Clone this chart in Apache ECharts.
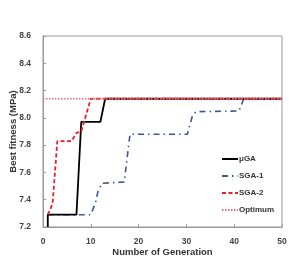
<!DOCTYPE html>
<html><head><meta charset="utf-8">
<script src="https://cdn.jsdelivr.net/npm/echarts@6/dist/echarts.min.js"></script>
<style>html,body{margin:0;padding:0;background:#fff}#c{width:289px;height:261px}</style>
</head><body><div id="c"></div>
<script>
const seriesNames = ['μGA', 'SGA-1', 'SGA-2', 'Optimum'];
const xTicks = [0, 10, 20, 30, 40, 50];
const yTicks = [7.2, 7.4, 7.6, 7.8, 8.0, 8.2, 8.4, 8.6];
const uGA = [[1,7.2],[1,7.29],[7,7.29],[8,7.97],[12,7.97],[13,8.14],[50,8.14]];
const sga1 = [[1,7.29],[10,7.29],[11,7.38],[11.5,7.46],[12.3,7.52],[17,7.53],[18.2,7.88],[30.2,7.88],[31.3,8.02],[32,8.045],[41,8.05],[42,8.14],[50,8.14]];
const sga2 = [[1,7.29],[2,7.37],[3,7.83],[6,7.83],[7,7.89],[8,7.90],[10,8.14],[50,8.14]];
const optimum = [[0,8.14],[50,8.14]];

const chart = echarts.init(document.getElementById('c'));
const fontFam = 'Liberation Sans, Arial, sans-serif';
const mk = (name, data, color, width, type, z) => ({
  name, type: 'line', data, symbol: 'none', z, showSymbol: false,
  lineStyle: {color, width, type}, itemStyle: {color}, animation: false
});
chart.setOption({
  animation: false,
  grid: {left: 43, right: 7, top: 36, bottom: 34, show: true, borderColor: '#999', borderWidth: 1,
    containLabel: false, outerBoundsMode: 'none'},
  xAxis: {
    type: 'value', min: xTicks[0], max: xTicks[xTicks.length-1], interval: 10,
    name: 'Number of Generation', nameLocation: 'middle', nameGap: 20, nameMoveOverlap: false,
    nameTextStyle: {fontFamily: fontFam, fontSize: 9.5, fontWeight: 'bold', color: '#333'},
    axisLine: {lineStyle: {color: '#999'}},
    axisTick: {inside: true, length: 3, lineStyle: {color: '#999'}},
    axisLabel: {fontFamily: fontFam, fontSize: 8.5, fontWeight: 'bold', color: '#444', margin: 10},
    splitLine: {show: false}
  },
  yAxis: {
    type: 'value', min: yTicks[0], max: yTicks[yTicks.length-1], interval: 0.2,
    name: 'Best fitness (MPa)', nameLocation: 'middle', nameGap: 25, nameRotate: 90, nameMoveOverlap: false,
    nameTextStyle: {fontFamily: fontFam, fontSize: 9.5, fontWeight: 'bold', color: '#333'},
    axisLine: {show: true, lineStyle: {color: '#999'}},
    axisTick: {show: true, inside: true, length: 3, lineStyle: {color: '#999'}},
    axisLabel: {fontFamily: fontFam, fontSize: 8.5, fontWeight: 'bold', color: '#444', margin: 12,
      formatter: v => v.toFixed(1)},
    splitLine: {show: false}
  },
  legend: {
    orient: 'vertical', left: 216, top: 150, itemWidth: 16, itemHeight: 8, itemGap: 9,
    itemStyle: {opacity: 0, borderWidth: 0},
    textStyle: {fontFamily: fontFam, fontSize: 8, fontWeight: 'bold', color: '#333', padding: [0,0,0,-4]},
    data: seriesNames
  },
  series: [
    mk(seriesNames[0], uGA, '#000000', 1.8, 'solid', 3),
    mk(seriesNames[1], sga1, '#3c5a8f', 1.6, [6,4,1.5,4], 2),
    mk(seriesNames[2], sga2, '#e8202a', 1.8, [4,2.5], 4),
    mk(seriesNames[3], optimum, '#e86a78', 1.3, [1.5,1.5], 5)
  ]
});
</script></body></html>
